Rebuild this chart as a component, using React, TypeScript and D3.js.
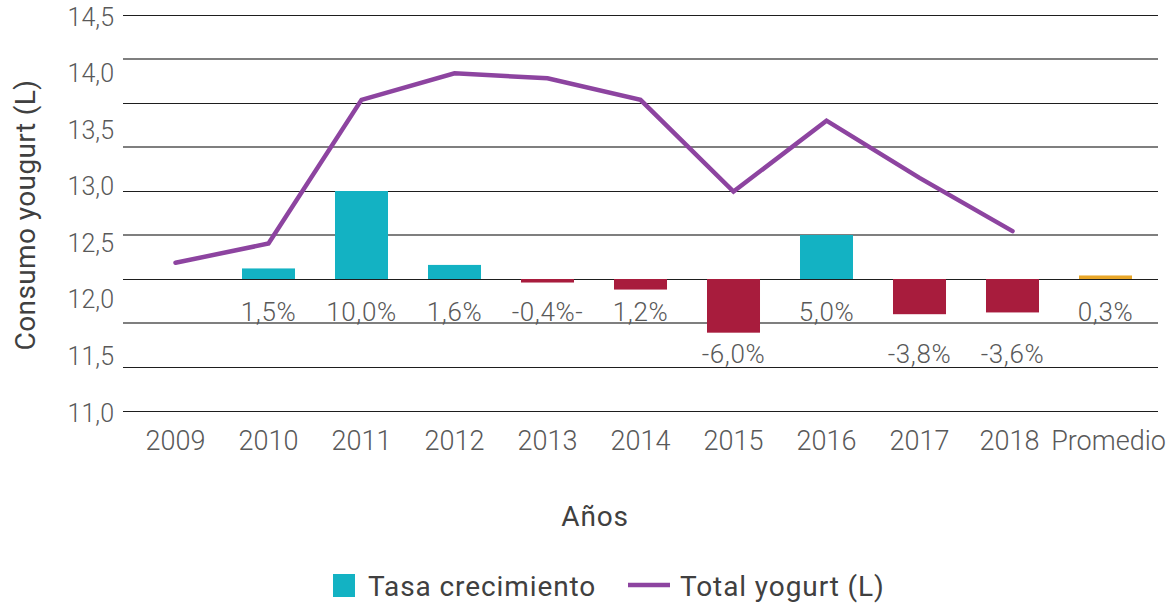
import React from "react";
import * as d3 from "d3";

const categories = ["2009", "2010", "2011", "2012", "2013", "2014", "2015", "2016", "2017", "2018", "Promedio"];
const totalYogurt = [12.31, 12.48, 13.75, 13.985, 13.94, 13.75, 12.94, 13.566, 13.06, 12.59];
const growthRate = [null, 1.2, 10.0, 1.6, -0.4, -1.2, -6.1, 5.0, -4.0, -3.8, 0.4];
const growthLabels = ["", "1,5%", "10,0%", "1,6%", "-0,4%-", "1,2%", "-6,0%", "5,0%", "-3,8%", "-3,6%", "0,3%"];
const leftTicks = [11.0, 11.5, 12.0, 12.5, 13.0, 13.5, 14.0, 14.5];
const rightGrid = [-15, -10, -5, 0, 5, 10, 15, 20, 25, 30];

const W = 1174;
const H = 605;
const TEAL = "#13B2C3";
const CRIMSON = "#A81C3D";
const ORANGE = "#E8A628";
const PURPLE = "#8D44A0";
const TEXT = "#595959";
const FONT = "Roboto, 'Noto Sans', sans-serif";

export default function App() {
  const x = d3.scaleBand<string>().domain(categories).range([129, 1152]).paddingInner(0.43).paddingOuter(0.215);
  const cx = (c: string) => (x(c) as number) + x.bandwidth() / 2;
  const yL = d3.scaleLinear().domain([11, 14.5]).range([411, 15]);
  const yR = d3.scaleLinear().domain([-15, 30]).range([411, 15]);
  const gridX0 = 123;
  const gridX1 = 1158;

  const line = d3
    .line<number>()
    .x((_, i) => cx(categories[i]))
    .y((d) => yL(d));

  const fmtTick = (v: number) => v.toFixed(1).replace(".", ",");

  return (
    <svg width={W} height={H} style={{ position: "absolute", left: 0, top: 0, background: "#fff" }} fontFamily={FONT}>
      {rightGrid.map((g) => {
        const major = g % 10 === 0 || g === -15;
        return (
          <line
            key={g}
            x1={gridX0}
            x2={gridX1}
            y1={yR(g)}
            y2={yR(g)}
            stroke={major ? "#1e1e1e" : "#7f7f7f"}
            strokeWidth={major ? 1 : 1.4}
            shapeRendering="crispEdges"
          />
        );
      })}
      {leftTicks.map((t) => (
        <text key={t} x={114} y={yL(t) + 2} textAnchor="end" dominantBaseline="central" fontSize={25} fontWeight={300} fill={TEXT}>
          {fmtTick(t)}
        </text>
      ))}
      {growthRate.map((v, i) => {
        if (v === null) return null;
        const c = categories[i];
        const color = c === "Promedio" ? ORANGE : v >= 0 ? TEAL : CRIMSON;
        const y0 = yR(0);
        const y1 = yR(v);
        return (
          <rect key={c} x={x(c)} width={x.bandwidth()} y={Math.min(y0, y1)} height={Math.abs(y1 - y0)} fill={color} />
        );
      })}
      {growthRate.map((v, i) => {
        if (v === null) return null;
        const c = categories[i];
        const low = v < -2;
        const yy = low ? yR(0) + 75 : yR(0) + 33;
        return (
          <text key={c} x={cx(c)} y={yy} textAnchor="middle" dominantBaseline="central" fontSize={26} fontWeight={300} letterSpacing={0.6} fill={TEXT}>
            {growthLabels[i]}
          </text>
        );
      })}
      <path d={line(totalYogurt) || ""} fill="none" stroke={PURPLE} strokeWidth={4.5} strokeLinejoin="miter" strokeLinecap="round" />
      {categories.map((c) => (
        <text
          key={c}
          x={cx(c) + (c === "Promedio" ? 3 : c === "2018" ? -3 : 0)}
          y={441}
          textAnchor="middle"
          dominantBaseline="central"
          fontSize={27}
          fontWeight={300}
          fill={TEXT}
        >
          {c}
        </text>
      ))}
      <text x={595} y={516} textAnchor="middle" dominantBaseline="central" fontSize={28} letterSpacing={0.8} fill="#404040">
        Años
      </text>
      <text
        transform={`translate(25,215) rotate(-90)`}
        textAnchor="middle"
        dominantBaseline="central"
        fontSize={28}
        letterSpacing={0.4}
        fill="#404040"
      >
        Consumo yougurt (L)
      </text>
      <rect x={333} y={574} width={22} height={23} fill={TEAL} />
      <text x={368} y={586} dominantBaseline="central" fontSize={28} letterSpacing={0.9} fill="#404040">
        Tasa crecimiento
      </text>
      <line x1={628} x2={670} y1={585} y2={585} stroke={PURPLE} strokeWidth={4.5} />
      <text x={680} y={586} dominantBaseline="central" fontSize={28} letterSpacing={0.9} fill="#404040">
        Total yogurt (L)
      </text>
    </svg>
  );
}
